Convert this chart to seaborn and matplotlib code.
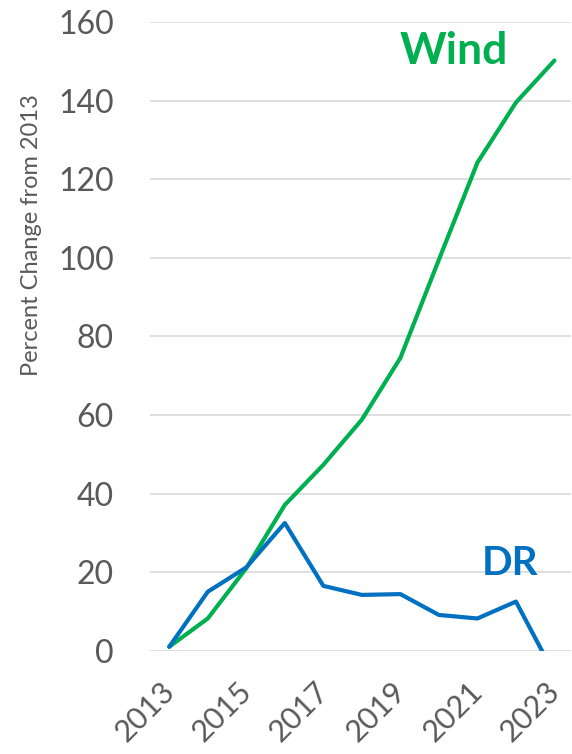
import matplotlib
matplotlib.use("Agg")
import matplotlib.pyplot as plt
import matplotlib.transforms as mtransforms
import seaborn as sns
import pandas as pd

years = [2013, 2014, 2015, 2016, 2017, 2018, 2019, 2020, 2021, 2022, 2023]
wind = [1.0, 8.2, 21.0, 37.1, 47.3, 58.8, 74.5, 99.5, 124.2, 139.5, 150.2]
dr = [1.0, 15.0, 21.2, 32.5, 16.5, 14.2, 14.4, 9.1, 8.2, 12.5, -6.0]
series_names = ["Wind", "DR"]
colors = {"Wind": "#00B050", "DR": "#0070C0"}
xticks = [2013, 2015, 2017, 2019, 2021, 2023]
yticks = [0, 20, 40, 60, 80, 100, 120, 140, 160]

df = pd.concat([
    pd.DataFrame({"Year": years, "Value": wind, "Series": "Wind"}),
    pd.DataFrame({"Year": years, "Value": dr, "Series": "DR"}),
])

sns.set_theme(style="white")
plt.rcParams["font.family"] = ["Lato", "DejaVu Sans"]

fig = plt.figure(figsize=(5.72, 7.54), dpi=100)
ax = fig.add_axes([150/572, 1-650.7/754, 421/572, (650.7-22)/754])

sns.lineplot(data=df, x="Year", y="Value", hue="Series", hue_order=series_names,
             palette=colors, linewidth=3.0, legend=False, ax=ax, zorder=3)

ax.set_xlim(2012.5, 2023.43)
ax.set_ylim(0, 160)
ax.set_yticks(yticks)
ax.set_xticks(xticks)
ax.set_xticklabels([str(x) for x in xticks], rotation=45, ha="right",
                   rotation_mode="anchor")
ax.grid(axis="y", color="#D9D9D9", linewidth=1.2, zorder=0)
ax.grid(axis="x", visible=False)
for s in ax.spines.values():
    s.set_visible(False)
ax.tick_params(axis="y", labelsize=23, colors="#595959", length=0, pad=26)
ax.tick_params(axis="x", labelsize=22, colors="#595959", length=0, pad=19)
shift = mtransforms.ScaledTranslation(-9/100, 0, fig.dpi_scale_trans)
for lbl in ax.get_xticklabels():
    lbl.set_transform(lbl.get_transform() + shift)
ax.set_xlabel("")
ax.set_ylabel("Percent Change from 2013", fontsize=17, color="#595959")
ax.yaxis.set_label_coords(-0.257, 0.661)

ax.text(2020.4, 152.5, "Wind", color=colors["Wind"], fontsize=32, fontweight="bold",
        ha="center", va="center")
ax.text(2021.85, 22.3, "DR", color=colors["DR"], fontsize=29, fontweight="bold",
        ha="center", va="center")

fig.savefig("out.png", dpi=100)
